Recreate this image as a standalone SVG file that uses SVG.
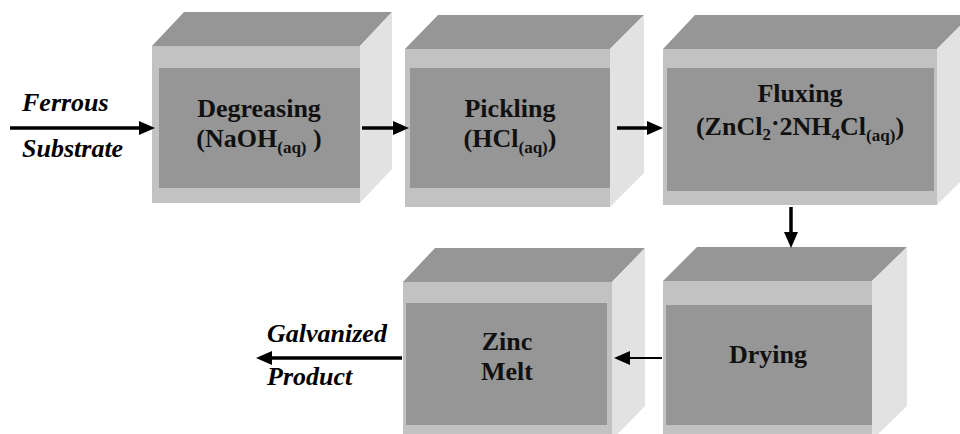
<svg xmlns="http://www.w3.org/2000/svg" width="960" height="434" viewBox="0 0 960 434">
  <defs>
    <marker id="head" markerUnits="userSpaceOnUse" markerWidth="16" markerHeight="14" refX="8" refY="7" orient="auto" overflow="visible">
      <path d="M0,0 L16,7 L0,14 Z" fill="#000"/>
    </marker>
  </defs>

  <rect width="960" height="434" fill="#fff"/>

  <!-- Upper row of tanks; shared text look set on the group -->
  <g font-family="Liberation Serif, serif" font-weight="bold" font-size="26" fill="#111" text-anchor="middle">

    <!-- Degreasing tank -->
    <g id="degreasing">
      <polygon fill="#969696" points="152,46 184,12 392,12 360,46"/>
      <polygon fill="#e2e2e2" points="360,46 392,12 392,169 360,203"/>
      <rect fill="#c2c2c2" x="152" y="46" width="208" height="157"/>
      <rect fill="#969696" x="159" y="68" width="201" height="120"/>
      <text font-family="Liberation Serif, serif" x="259" y="117">Degreasing</text>
      <text font-family="Liberation Serif, serif" x="259" y="147">(NaOH<tspan font-size="17" dy="6">(aq)</tspan><tspan dy="-6"> )</tspan></text>
    </g>

    <!-- Pickling tank -->
    <g id="pickling">
      <polygon fill="#969696" points="405,49 438,15 644,15 610,49"/>
      <polygon fill="#e2e2e2" points="610,49 644,15 644,173 610,207"/>
      <rect fill="#c2c2c2" x="405" y="49" width="205" height="158"/>
      <rect fill="#969696" x="410" y="68" width="200" height="120"/>
      <text font-family="Liberation Serif, serif" x="510" y="117">Pickling</text>
      <text font-family="Liberation Serif, serif" x="510" y="147">(HCl<tspan font-size="17" dy="6">(aq)</tspan><tspan dy="-6">)</tspan></text>
    </g>

    <!-- Fluxing tank -->
    <g id="fluxing">
      <polygon fill="#969696" points="663,49 695,15 971,15 937,49"/>
      <polygon fill="#e2e2e2" points="937,49 971,15 971,171 937,205"/>
      <rect fill="#c2c2c2" x="663" y="49" width="274" height="156"/>
      <rect fill="#969696" x="667" y="68" width="267" height="123"/>
      <text font-family="Liberation Serif, serif" x="800" y="102">Fluxing</text>
      <text font-family="Liberation Serif, serif" x="800" y="135">(ZnCl<tspan font-size="17" dy="5">2</tspan><tspan dy="-9">·</tspan><tspan dy="4">2NH</tspan><tspan font-size="17" dy="5">4</tspan><tspan dy="-5">Cl</tspan><tspan font-size="17" dy="6">(aq)</tspan><tspan dy="-6">)</tspan></text>
    </g>

    <!-- Drying stage -->
    <g id="drying">
      <polygon fill="#969696" points="663,281 697,247 907,247 872,281"/>
      <polygon fill="#e2e2e2" points="872,281 907,247 907,406 872,440"/>
      <rect fill="#c2c2c2" x="663" y="281" width="209" height="159"/>
      <rect fill="#969696" x="666" y="305" width="206" height="120"/>
      <text font-family="Liberation Serif, serif" x="768" y="363">Drying</text>
    </g>

    <!-- Zinc melt bath -->
    <g id="zinc-melt">
      <polygon fill="#969696" points="403,282 435,248 645,248 612,282"/>
      <polygon fill="#e2e2e2" points="612,282 645,248 645,406 612,440"/>
      <rect fill="#c2c2c2" x="403" y="282" width="209" height="158"/>
      <rect fill="#969696" x="406" y="303" width="201" height="122"/>
      <text font-family="Liberation Serif, serif" x="507" y="350">Zinc</text>
      <text font-family="Liberation Serif, serif" x="507" y="380">Melt</text>
    </g>
  </g>

  <!-- Input / output labels -->
  <g font-family="Liberation Serif, serif" font-weight="bold" font-style="italic" font-size="26" fill="#000">
    <g id="input">
      <text font-family="Liberation Serif, serif" x="22" y="111">Ferrous</text>
      <text font-family="Liberation Serif, serif" x="22" y="157">Substrate</text>
    </g>
    <g id="output">
      <text font-family="Liberation Serif, serif" x="267" y="342">Galvanized</text>
      <text font-family="Liberation Serif, serif" x="267" y="385">Product</text>
    </g>
  </g>

  <!-- Process flow -->
  <g id="connectors" stroke="#000" fill="none" marker-end="url(#head)">
    <line stroke-width="3.5" x1="10" y1="128" x2="147" y2="128"/>
    <line stroke-width="3.5" x1="362" y1="128" x2="401" y2="128"/>
    <line stroke-width="3.5" x1="617" y1="128" x2="655" y2="128"/>
    <line stroke-width="3.5" x1="791" y1="207" x2="791" y2="240"/>
    <line stroke-width="1.8" x1="662" y1="358" x2="622" y2="358"/>
    <line stroke-width="3.5" x1="402" y1="358" x2="264" y2="358"/>
  </g>
</svg>
